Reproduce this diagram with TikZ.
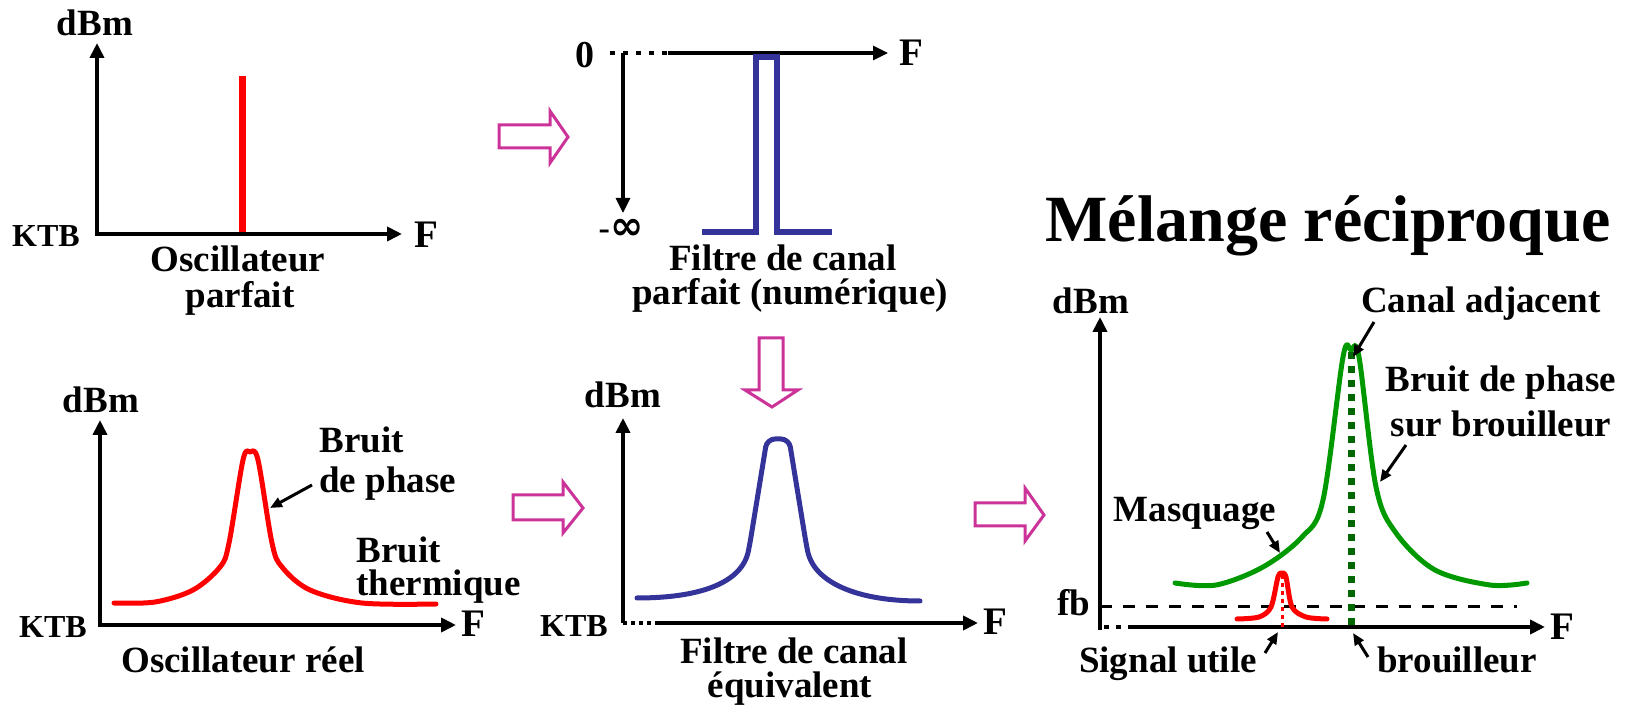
\documentclass[tikz,border=0pt]{standalone}
\usepackage{fontspec}
\setmainfont{Liberation Serif}
\newfontfamily\symfont{DejaVu Sans}
\usetikzlibrary{arrows.meta}
\definecolor{pinkc}{RGB}{204,51,153}
\definecolor{bluec}{RGB}{51,51,153}
\definecolor{greenc}{RGB}{0,153,0}
\definecolor{dgreen}{RGB}{0,102,0}
\begin{document}
\begin{tikzpicture}[x=0.5pt,y=-0.5pt,
  lbl/.style={font=\fontsize{18.5}{20}\selectfont\bfseries, inner sep=0pt},
  ktb/.style={font=\fontsize{16}{18}\selectfont\bfseries, inner sep=0pt},
  flbl/.style={font=\fontsize{19.5}{20}\selectfont\bfseries, inner sep=0pt},
  ttl/.style={font=\fontsize{33}{36}\selectfont\bfseries, inner sep=0pt},
  axtip/.tip={Triangle[length=7.5pt,width=7pt]},
  axis/.style={line width=2pt},
  thinaxis/.style={line width=1.6pt},
  ptr/.style={line width=1.5pt, -{Triangle[length=6pt,width=5pt]}},
  blockarrow/.style={draw=pinkc, line width=1.5pt, line join=miter},
  curve/.style={line width=2.5pt, line cap=round, line join=round},
]
\useasboundingbox (0,0) rectangle (1634,705);

% ---------- Panel 1: Oscillateur parfait ----------
\coordinate (p1o) at (97,234);
\coordinate (p1y) at (97,43);
\coordinate (p1x) at (402,234);
\draw[axis, axtip-axtip] (p1y) |- (p1x);
\draw[red, line width=3.5pt] (242,76) -- (242,232);
\node[lbl] (p1dbm) at (95,23) {dBm};
\node[ktb] (p1ktb) at (46,236) {KTB};
\node[flbl] (p1f) at (426,235) {F};
\node[lbl, anchor=base] (p1t1) at (238,272) {Oscillateur};
\node[lbl, anchor=base] (p1t2) at (240,308) {parfait};

% ---------- Panel 2: Filtre parfait ----------
\coordinate (p2o) at (623,53);
\coordinate (p2d) at (668,53);
\coordinate (p2x) at (888,53);
\coordinate (p2y) at (623,213);
\draw[thinaxis, dash pattern=on 2.5pt off 4pt] (610,53) -- (p2d);
\draw[thinaxis, -axtip] (p2d) -- (p2x);
\draw[thinaxis, -axtip] (p2o) -- (p2y);
\node[ktb, font=\fontsize{19}{20}\selectfont\bfseries] (p2zero) at (585,55) {0};
\node[ktb, font=\fontsize{17}{18}\selectfont\bfseries, anchor=base] (p2inf) at (621,240) {-{\symfont\bfseries\fontsize{20}{20}\selectfont ∞}};
\node[flbl] (p2f) at (911,53) {F};
\draw[bluec, line width=3pt, line join=miter] (702,232) -- (756,232) -- (756,57) -- (777,57) -- (777,232) -- (832,232);
\node[lbl, anchor=base] (p2t1) at (783,271) {Filtre de canal};
\node[lbl, anchor=base] (p2t2) at (790,305) {parfait (numérique)};

% ---------- Pink block arrows ----------
\draw[blockarrow] (499,125) -- (550,125) -- (550,111) -- (568,137) -- (550,163) -- (550,148) -- (499,148) -- cycle;
\draw[blockarrow] (513,495) -- (563,495) -- (563,482) -- (583,508) -- (563,533) -- (563,520) -- (513,520) -- cycle;
\draw[blockarrow] (975,503) -- (1025,503) -- (1025,488) -- (1044,515) -- (1025,541) -- (1025,526) -- (975,526) -- cycle;
\draw[blockarrow] (759,338) -- (783,338) -- (783,390) -- (798,390) -- (772,407) -- (745,390) -- (759,390) -- cycle;

% ---------- Panel 3: Oscillateur reel ----------
\coordinate (p3o) at (100,625);
\coordinate (p3y) at (100,420);
\coordinate (p3x) at (456,625);
\draw[axis, axtip-axtip] (p3y) |- (p3x);
\node[lbl] (p3dbm) at (101,400) {dBm};
\node[ktb] (p3ktb) at (53,627) {KTB};
\node[flbl] (p3f) at (473,624) {F};
\draw[red, curve] plot[smooth, tension=0.55] coordinates {(114,603) (155,602) (193,590) (220,567) (229,543) (243,460) (250,452) (258,460) (272,543) (282,567) (310,590) (362,603) (436,604)};
\node[lbl, anchor=base west] (p3b1) at (319,453) {Bruit};
\node[lbl, anchor=base west] (p3b2) at (319,493) {de phase};
\coordinate (p3as) at (312,485);
\coordinate (p3ae) at (270,508);
\draw[ptr] (p3as) -- (p3ae);
\node[lbl, anchor=base west] (p3c1) at (356,562) {Bruit};
\node[lbl, anchor=base west] (p3c2) at (356,596) {thermique};
\node[lbl, anchor=base] (p3t) at (243,672) {Oscillateur réel};

% ---------- Panel 4: Filtre equivalent ----------
\coordinate (p4o) at (623,623);
\coordinate (p4y) at (623,418);
\coordinate (p4d) at (655,623);
\coordinate (p4x) at (978,623);
\draw[axis, -axtip] (p4o) -- (p4y);
\draw[axis, dash pattern=on 2pt off 2pt] (p4o) -- (p4d);
\draw[axis, -axtip] (p4d) -- (p4x);
\node[lbl] (p4dbm) at (623,395) {dBm};
\node[ktb] (p4ktb) at (574,626) {KTB};
\node[flbl] (p4f) at (995,622) {F};
\draw[bluec, curve, rounded corners=4pt] (637,598) .. controls (700,598) and (742,583) .. (750,543) -- (767,439) -- (789,439) -- (806,543) .. controls (814,583) and (858,601) .. (920,601);
\node[lbl, anchor=base] (p4t1) at (794,663) {Filtre de canal};
\node[lbl, anchor=base] (p4t2) at (790,697) {équivalent};

% ---------- Panel 5: Melange reciproque ----------
\node[ttl, anchor=base] (title) at (1328,242) {Mélange réciproque};
\coordinate (p5o) at (1100,627);
\coordinate (p5y) at (1100,317);
\coordinate (p5d) at (1133,627);
\coordinate (p5x) at (1545,627);
\draw[axis, -axtip] (1100,630) -- (p5y);
\draw[axis, dash pattern=on 2.5pt off 3.5pt] (1104,627) -- (p5d);
\draw[axis, -axtip] (p5d) -- (p5x);
\node[lbl] (p5dbm) at (1091,301) {dBm};
\node[lbl] (p5fb) at (1074,603) {fb};
\node[flbl] (p5f) at (1562,627) {F};
\coordinate (fbl) at (1100,606);
\coordinate (fbr) at (1517,606);
\draw[line width=1.5pt, dash pattern=on 6pt off 5.5pt] (fbl) -- (fbr);
\draw[greenc, curve] plot[smooth, tension=0.55] coordinates {(1175,583) (1216,585) (1263,567) (1302,537) (1323,500) (1343,357) (1351,350) (1359,357) (1376,487) (1396,533) (1435,570) (1490,585) (1527,583)};
\coordinate (gpk) at (1351,352);
\coordinate (gbase) at (1351,627);
\draw[dgreen, line width=3.5pt, dash pattern=on 3.5pt off 3.5pt] (gpk) -- (gbase);
\draw[red, curve] plot[smooth, tension=0.5] coordinates {(1237,619) (1259,617) (1271,607) (1278,577) (1282,573) (1286,577) (1292,607) (1306,617) (1327,619)};
\coordinate (rpk) at (1282,575);
\coordinate (rbase) at (1282,627);
\draw[red, line width=1.5pt, dash pattern=on 2pt off 2pt] (rpk) -- (rbase);

\node[lbl, anchor=base] (canal) at (1481,313) {Canal adjacent};
\coordinate (canals) at (1374,322);
\coordinate (canale) at (1353,357);
\draw[ptr] (canals) -- (canale);
\node[lbl, anchor=base] (bp1) at (1501,392) {Bruit de phase};
\node[lbl, anchor=base] (bp2) at (1501,437) {sur brouilleur};
\coordinate (bps) at (1406,445);
\coordinate (bpe) at (1380,482);
\draw[ptr] (bps) -- (bpe);
\node[lbl, anchor=base] (masq) at (1195,522) {Masquage};
\coordinate (masqs) at (1267,532);
\coordinate (masqe) at (1280,553);
\draw[ptr] (masqs) -- (masqe);
\node[lbl, anchor=base] (sig) at (1168,672) {Signal utile};
\coordinate (sigs) at (1265,653);
\coordinate (sige) at (1278,632);
\draw[ptr] (sigs) -- (sige);
\node[lbl, anchor=base] (brou) at (1457,672) {brouilleur};
\coordinate (brous) at (1368,657);
\coordinate (broue) at (1353,633);
\draw[ptr] (brous) -- (broue);
\end{tikzpicture}
\end{document}
